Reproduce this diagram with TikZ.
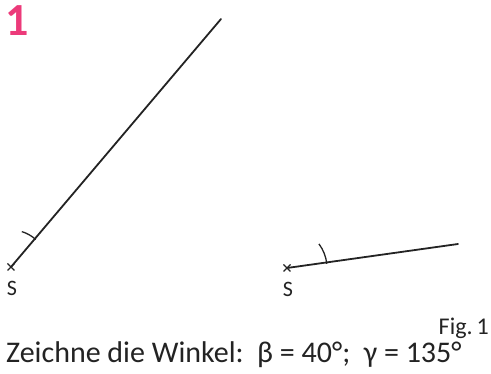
\documentclass[tikz,border=0pt]{standalone}
\usepackage{fontspec}
\setmainfont{Carlito}
\definecolor{numpink}{RGB}{236,58,122}
\definecolor{inkgray}{RGB}{35,35,35}
\begin{document}
\begin{tikzpicture}[x=1pt,y=-1pt,
  ray/.style={draw=inkgray,line width=1.8pt,line cap=round},
  tick/.style={draw=inkgray,line width=1.3pt},
  crossmark/.style={draw=inkgray,line width=1.4pt},
  lbl/.style={inner sep=0pt,font=\fontsize{22}{24}\selectfont,text=inkgray}]
\useasboundingbox (0,0) rectangle (491,374);
% number
\node[inner sep=0pt,anchor=south west,text=numpink,font=\bfseries\fontsize{46}{48}\selectfont] (num) at (5,36) {1};
% left angle
\coordinate (S1) at (11,267);
\coordinate (E1) at (221,19);
\draw[ray] (S1) -- (E1);
\draw[tick] ([shift={(-48:37)}]S1) arc[start angle=-48,end angle=-73,radius=37];
\draw[crossmark] ([shift={(-3.5,-3.5)}]S1) -- ([shift={(3.5,3.5)}]S1) ([shift={(-3.5,3.5)}]S1) -- ([shift={(3.5,-3.5)}]S1);
\node[lbl] (s1) at (12,288) {S};
% right angle
\coordinate (S2) at (287,268);
\coordinate (E2) at (458,244);
\draw[ray] (S2) -- (E2);
\draw[tick] ([shift={(-6:40)}]S2) arc[start angle=-6,end angle=-37,radius=40];
\draw[crossmark] ([shift={(-3.5,-3.5)}]S2) -- ([shift={(3.5,3.5)}]S2) ([shift={(-3.5,3.5)}]S2) -- ([shift={(3.5,-3.5)}]S2);
\node[lbl] (s2) at (288,289) {S};
% captions
\node[inner sep=0pt,anchor=base east,text=inkgray,font=\fontsize{24}{26}\selectfont] (fig) at (489,335) {Fig.\,1};
\node[inner sep=0pt,anchor=base west,text=inkgray,font=\fontsize{30}{32}\selectfont] (task) at (6,363) {Zeichne die Winkel:\ \ β = 40°;\ \ γ = 135°};
\end{tikzpicture}
\end{document}
